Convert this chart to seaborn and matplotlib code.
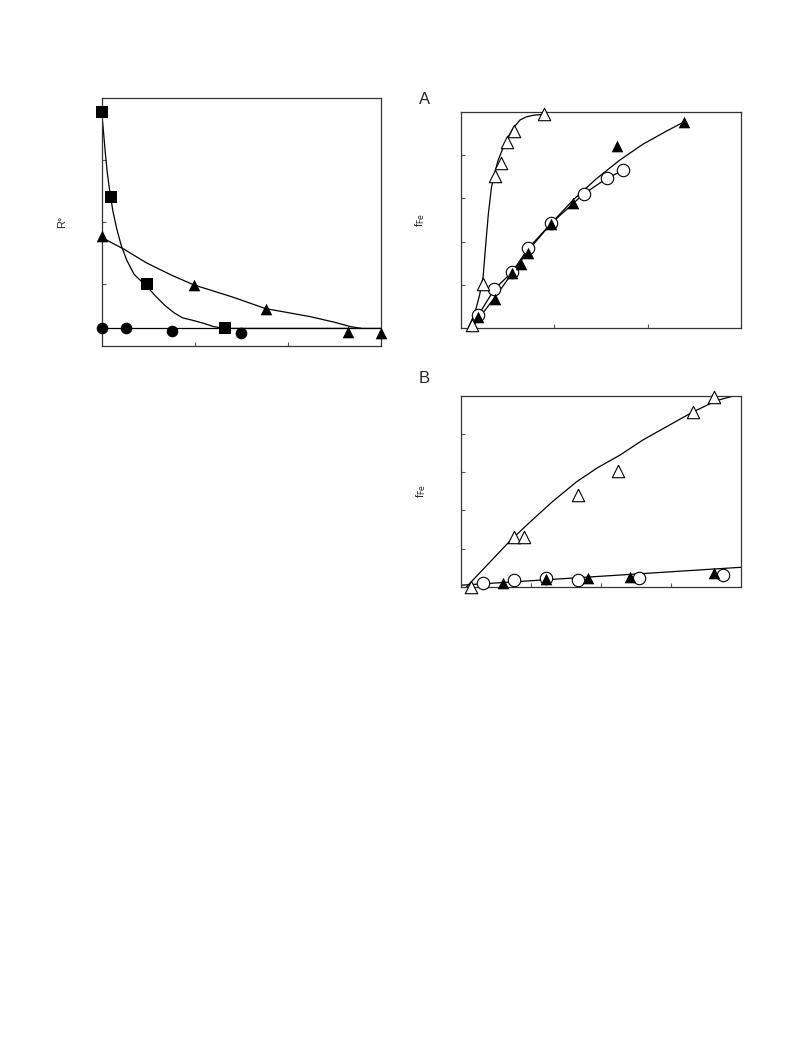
import numpy as np
import pandas as pd
import matplotlib
matplotlib.use("Agg")
import matplotlib.pyplot as plt
import seaborn as sns

sns.set_style("white")
plt.rcParams['font.family'] = ['Liberation Sans', 'DejaVu Sans']

# ---- left panel: R° ----
sq_x = [0.0, 0.097, 0.49, 1.32]
sq_y = [3.78, 2.40, 0.99, 0.28]
ci_x = [0.0, 0.26, 0.76, 1.50]
ci_y = [0.28, 0.28, 0.24, 0.21]
tr_x = [0.0, 0.995, 1.76, 2.65, 3.0]
tr_y = [1.78, 0.98, 0.59, 0.23, 0.20]
# curves
sq_cx = [0.0, 0.02, 0.04, 0.06, 0.08, 0.097, 0.12, 0.16, 0.21, 0.27, 0.35, 0.42, 0.49,
         0.58, 0.68, 0.78, 0.87, 0.98, 1.1, 1.2, 1.32, 3.0]
sq_cy = [3.78, 3.45, 3.10, 2.80, 2.57, 2.40, 2.18, 1.90, 1.62, 1.38, 1.15, 1.05, 0.95,
         0.80, 0.65, 0.53, 0.45, 0.41, 0.36, 0.31, 0.28, 0.28]
tr_cx = [0.0, 0.25, 0.48, 0.75, 0.995, 1.4, 1.76, 2.02, 2.24, 2.5, 2.67, 2.79]
tr_cy = [1.75, 1.55, 1.34, 1.14, 0.98, 0.79, 0.60, 0.53, 0.47, 0.38, 0.31, 0.28]
base_x = [0.0, 3.0]
base_y = [0.28, 0.28]

# ---- panel A: f_Fe ----
a_ot_x = [0.124, 0.24, 0.367, 0.43, 0.50, 0.574, 0.895]
a_ot_y = [0.08, 1.02, 3.52, 3.81, 4.29, 4.56, 4.94]
a_ot_cx = [0.07, 0.15, 0.20, 0.24, 0.27, 0.296, 0.33, 0.36, 0.40, 0.45, 0.49, 0.56,
           0.635, 0.70, 0.78, 0.895]
a_ot_cy = [-0.05, 0.35, 0.75, 1.2, 2.0, 2.65, 3.27, 3.55, 3.88, 4.15, 4.35, 4.62,
           4.81, 4.88, 4.92, 4.94]
a_ft_x = [0.19, 0.367, 0.553, 0.642, 0.724, 0.967, 1.206, 1.677, 2.394]
a_ft_y = [0.27, 0.68, 1.28, 1.48, 1.73, 2.40, 2.90, 4.21, 4.77]
a_ft_cx = [0.10, 0.19, 0.367, 0.553, 0.724, 0.967, 1.206, 1.45, 1.7, 1.95, 2.2, 2.394]
a_ft_cy = [-0.05, 0.22, 0.72, 1.28, 1.80, 2.42, 2.97, 3.45, 3.88, 4.25, 4.55, 4.77]
a_oc_x = [0.19, 0.36, 0.55, 0.724, 0.967, 1.32, 1.563, 1.74]
a_oc_y = [0.31, 0.90, 1.30, 1.85, 2.42, 3.11, 3.46, 3.65]

# ---- panel B: f_Fe ----
b_ot_x = [0.15, 0.76, 0.90, 1.67, 2.25, 3.31, 3.61]
b_ot_y = [0.0, 1.31, 1.31, 2.40, 3.03, 4.59, 4.98]
b_ot_cx = [0.08, 0.4, 0.71, 1.0, 1.3, 1.65, 1.95, 2.27, 2.6, 2.94, 3.31, 3.65, 3.89]
b_ot_cy = [0.0, 0.62, 1.22, 1.72, 2.22, 2.75, 3.12, 3.45, 3.85, 4.20, 4.58, 4.88, 5.0]
b_ft_x = [0.60, 1.21, 1.82, 2.41, 3.61]
b_ft_y = [0.10, 0.20, 0.22, 0.25, 0.35]
b_oc_x = [0.32, 0.76, 1.21, 1.67, 2.55, 3.74]
b_oc_y = [0.10, 0.18, 0.22, 0.18, 0.22, 0.31]
b_line_x = [0.0, 4.0]
b_line_y = [0.04, 0.51]

fig = plt.figure(figsize=(7.93, 10.57), dpi=100)
ax0 = fig.add_axes([0.1282, 0.6729, 0.3522, 0.2343])
axA = fig.add_axes([0.5810, 0.6894, 0.3535, 0.2049])
axB = fig.add_axes([0.5813, 0.4449, 0.3531, 0.1804])

LW = 0.9
MS = 70
MS_OPEN = 80


def curve(ax, x, y, **kw):
    sns.lineplot(x=x, y=y, ax=ax, color="black", lw=LW, sort=False,
                 estimator=None, legend=False, **kw)


def pts(ax, x, y, marker, filled=True, s=MS):
    sns.scatterplot(x=x, y=y, ax=ax, marker=marker, s=s,
                    color="black" if filled else "white",
                    edgecolor="black", linewidth=0.8 if not filled else 0,
                    zorder=5, clip_on=False, legend=False)


# left panel
curve(ax0, base_x, base_y)
curve(ax0, sq_cx, sq_cy)
curve(ax0, tr_cx, tr_cy)
pts(ax0, sq_x, sq_y, "s")
pts(ax0, ci_x, ci_y, "o")
pts(ax0, tr_x, tr_y, "^")
ax0.set_xlim(0, 3)
ax0.set_ylim(0, 4)
ax0.set_xticks([1, 2])
ax0.set_yticks([1, 2, 3])
ax0.set_ylabel("R°", fontsize=8, labelpad=25)

# panel A
curve(axA, a_ot_cx, a_ot_cy)
curve(axA, a_ft_cx, a_ft_cy)
curve(axA, [0.10] + a_oc_x, [-0.05] + a_oc_y)
pts(axA, a_oc_x, a_oc_y, "o", filled=False, s=MS_OPEN)
pts(axA, a_ft_x, a_ft_y, "^")
pts(axA, a_ot_x, a_ot_y, "^", filled=False, s=MS_OPEN)
axA.set_xlim(0, 3)
axA.set_ylim(0, 5)
axA.set_xticks([1, 2])
axA.set_yticks([1, 2, 3, 4])
axA.set_ylabel("f$_{\\mathrm{Fe}}$", fontsize=8, labelpad=24)
axA.text(-0.13, 1.055, "A", transform=axA.transAxes, fontsize=12,
         ha="center", va="center")

# panel B
curve(axB, b_line_x, b_line_y)
curve(axB, b_ot_cx, b_ot_cy)
pts(axB, b_oc_x, b_oc_y, "o", filled=False, s=MS_OPEN)
pts(axB, b_ft_x, b_ft_y, "^")
pts(axB, b_ot_x, b_ot_y, "^", filled=False, s=MS_OPEN)
axB.set_xlim(0, 4)
axB.set_ylim(0, 5)
axB.set_xticks([1, 2, 3])
axB.set_yticks([1, 2, 3, 4])
axB.set_ylabel("f$_{\\mathrm{Fe}}$", fontsize=8, labelpad=24)
axB.text(-0.13, 1.09, "B", transform=axB.transAxes, fontsize=12,
         ha="center", va="center")

for ax in (ax0, axA, axB):
    ax.tick_params(bottom=True, left=True, direction="in", length=3, width=0.8,
                   color="#555555", labelbottom=False, labelleft=False)
    for sp in ax.spines.values():
        sp.set_linewidth(0.9)
        sp.set_color("#333333")
    ax.set_xlabel("")

fig.savefig("out.png", dpi=100)
